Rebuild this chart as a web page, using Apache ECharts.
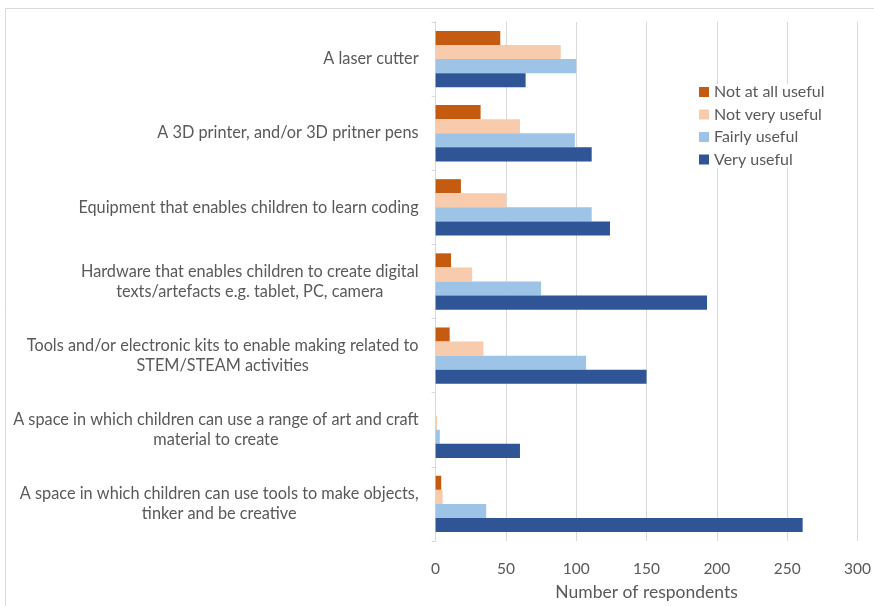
<!DOCTYPE html>
<html>
<head>
<meta charset="utf-8">
<script src="https://cdn.jsdelivr.net/npm/echarts@6/dist/echarts.min.js"></script>
<style>
html,body{margin:0;padding:0;background:#fff;}
#chart{width:874px;height:606px;}
</style>
</head>
<body>
<div id="chart"></div>
<script>
const categories = [
  "A laser cutter",
  "A 3D printer, and/or 3D pritner pens",
  "Equipment that enables children to learn coding",
  "Hardware that enables children to create digital\ntexts/artefacts e.g. tablet, PC, camera",
  "Tools and/or electronic kits to enable making related to\nSTEM/STEAM activities",
  "A space in which children can use a range of art and craft\nmaterial to create",
  "A space in which children can use tools to make objects,\ntinker and be creative"
];
const seriesNames = ["Not at all useful", "Not very useful", "Fairly useful", "Very useful"];
const notAtAllUseful = [46, 32, 18, 11, 10, 0, 4];
const notVeryUseful  = [89, 60, 50, 26, 34, 1, 5];
const fairlyUseful   = [100, 99, 111, 75, 107, 3, 36];
const veryUseful     = [64, 111, 124, 193, 150, 60, 261];
const xTicks = [0, 50, 100, 150, 200, 250, 300];

const colors = ["#C55A11", "#F8CBAD", "#9DC3E6", "#2F5597"];
const seriesData = [notAtAllUseful, notVeryUseful, fairlyUseful, veryUseful];
const font = "Lato, 'Open Sans', sans-serif";

const chart = echarts.init(document.getElementById('chart'));
chart.setOption({
  backgroundColor: '#fff',
  animation: false,
  graphic: [{
    type: 'rect', shape: {x: 5.5, y: 8.5, width: 900, height: 700},
    style: {fill: 'none', stroke: '#d9d9d9', lineWidth: 1}, silent: true
  }],
  legend: {
    orient: 'vertical',
    left: 697, top: 84,
    itemWidth: 10, itemHeight: 10, itemGap: 6.5,
    icon: 'rect',
    backgroundColor: '#fff',
    padding: [0, 2, 0, 2],
    textStyle: {color: '#595959', fontSize: 16, fontFamily: font, lineHeight: 16},
    data: seriesNames
  },
  grid: {left: 435.6, right: 16.5, top: 22, bottom: 65, containLabel: false},
  xAxis: {
    type: 'value', min: xTicks[0], max: xTicks[xTicks.length - 1], interval: 50,
    axisLine: {show: false}, axisTick: {show: false},
    splitLine: {lineStyle: {color: '#d9d9d9', width: 1}},
    axisLabel: {color: '#595959', fontSize: 15.5, fontFamily: font, margin: 20},
    name: 'Number of respondents', nameLocation: 'middle', nameGap: 42,
    nameTextStyle: {color: '#595959', fontSize: 17.5, fontFamily: font}
  },
  yAxis: {
    type: 'category', inverse: true, data: categories,
    axisLine: {lineStyle: {color: '#d9d9d9'}},
    axisTick: {show: true, length: 4, lineStyle: {color: '#d9d9d9'}},
    axisLabel: {
      color: '#595959', fontSize: 16.3, fontFamily: font, margin: 17, lineHeight: 20.5,
      formatter: v => v.split('\n').map(s => '{c|' + s + '}').join('\n'),
      rich: {c: {align: 'center', color: '#595959', fontSize: 16.3, fontFamily: font, lineHeight: 20.5}}
    }
  },
  series: seriesNames.map((n, i) => ({
    name: n, type: 'bar', data: seriesData[i],
    barGap: '0%', barCategoryGap: '24%',
    itemStyle: {color: colors[i]}
  }))
});
</script>
</body>
</html>
